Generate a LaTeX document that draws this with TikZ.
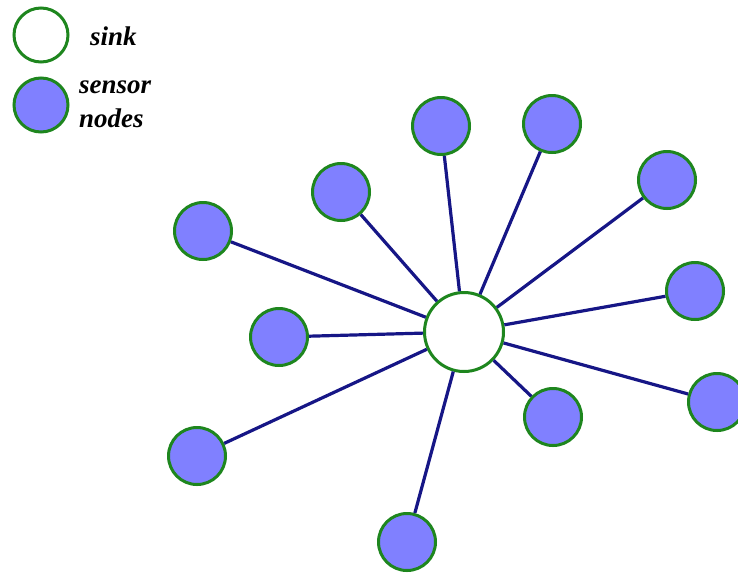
\documentclass[tikz,border=0pt]{standalone}
\usepackage{fontspec}
\setmainfont{Liberation Serif}
\usepackage{tikz}
\usetikzlibrary{positioning}
\definecolor{ring}{HTML}{1E861E}
\definecolor{fillblue}{HTML}{8080FF}
\definecolor{navy}{HTML}{161686}

\begin{document}
\begin{tikzpicture}[x=1pt,y=-1pt,
  sensor/.style={circle,draw=ring,fill=fillblue,line width=3pt,minimum size=57pt,inner sep=0pt},
  sinknode/.style={circle,draw=ring,fill=white,line width=3pt,minimum size=79pt,inner sep=0pt},
  link/.style={navy,line width=3.2pt},
  lbl/.style={font=\fontsize{27}{34}\selectfont\bfseries\itshape,anchor=base west,inner sep=0pt}]
  \useasboundingbox (0,0) rectangle (738,574);
  % legend
  \node[sinknode,minimum size=54pt] (lsink) at (41,35) {};
  \node[sensor,minimum size=54pt] (lsensor) at (41,105) {};
  \node[lbl] (tsink) at (90,45) {sink};
  \node[lbl] (tsensor) at (79,93) {sensor};
  \node[lbl] (tnodes) at (79,127) {nodes};
  % the star
  \node[sinknode] (s) at (464,332) {};
  \node[sensor] (n1) at (441,126) {};
  \node[sensor] (n2) at (552,124) {};
  \node[sensor] (n3) at (341,192) {};
  \node[sensor] (n4) at (667,180) {};
  \node[sensor] (n5) at (203,231) {};
  \node[sensor] (n6) at (695,291) {};
  \node[sensor] (n7) at (279,337) {};
  \node[sensor] (n8) at (717,402) {};
  \node[sensor] (n9) at (553,417) {};
  \node[sensor] (n10) at (197,456) {};
  \node[sensor] (n11) at (407,542) {};
  \foreach \i in {1,...,11}
    \draw[link] (n\i) -- (s);
\end{tikzpicture}
\end{document}
